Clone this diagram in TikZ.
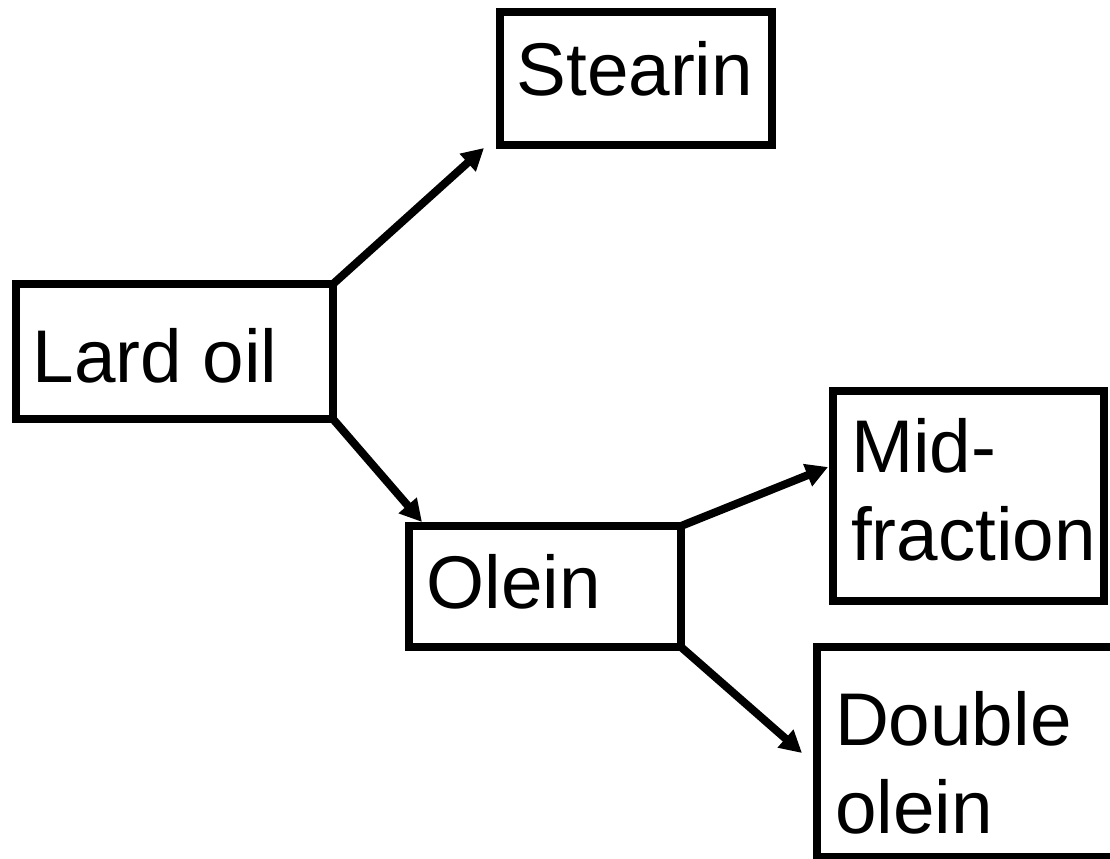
\documentclass[tikz,border=0pt]{standalone}
\usepackage{fontspec}
\setmainfont{Liberation Sans}
\usetikzlibrary{arrows.meta}
\begin{document}
\begin{tikzpicture}[x=0.75pt,y=-0.75pt,
  box/.style={draw=black,line width=6.4pt,rectangle,inner sep=0pt,outer sep=0pt},
  lbl/.style={inner sep=0pt,outer sep=0pt,anchor=base west,align=left,
    font=\fontsize{56pt}{65.6pt}\selectfont},
  flow/.style={line width=6pt,-{Triangle[length=16.5pt,width=17pt]}}]
\useasboundingbox (0,0) rectangle (1110,858);
\clip (0,0) rectangle (1110,858);
% boxes
\node[box,minimum width=204pt,minimum height=99.75pt] (stearin) at (636,78.5) {};
\node[box,minimum width=237.75pt,minimum height=101.25pt] (lard) at (174.5,351.5) {};
\node[box,minimum width=204pt,minimum height=90.75pt] (olein) at (545,586.5) {};
\node[box,minimum width=203.25pt,minimum height=157.5pt] (mid) at (968.5,496) {};
\node[box,minimum width=231pt,minimum height=157.5pt] (double) at (971,752) {};
% labels (two-line labels are placed by their last baseline)
\node[lbl] (stearintxt) at (516.5,95) {Stearin};
\node[lbl] (lardtxt) at (32.5,382) {Lard oil};
\node[lbl] (oleintxt) at (426.5,608) {Olein};
\node[lbl] (midtxt) at (851,560) {Mid-\\fraction};
\node[lbl] (doubletxt) at (835,833) {Double\\olein};
% arrow ends
\coordinate (t1) at (484,148);
\coordinate (t2) at (422,522);
\coordinate (t3) at (828,467);
\coordinate (t4) at (802,753);
% connectors
\draw[flow] (lard.north east) -- (t1);
\draw[flow] (lard.south east) -- (t2);
\draw[flow] (olein.north east) -- (t3);
\draw[flow] (olein.south east) -- (t4);
\end{tikzpicture}
\end{document}
